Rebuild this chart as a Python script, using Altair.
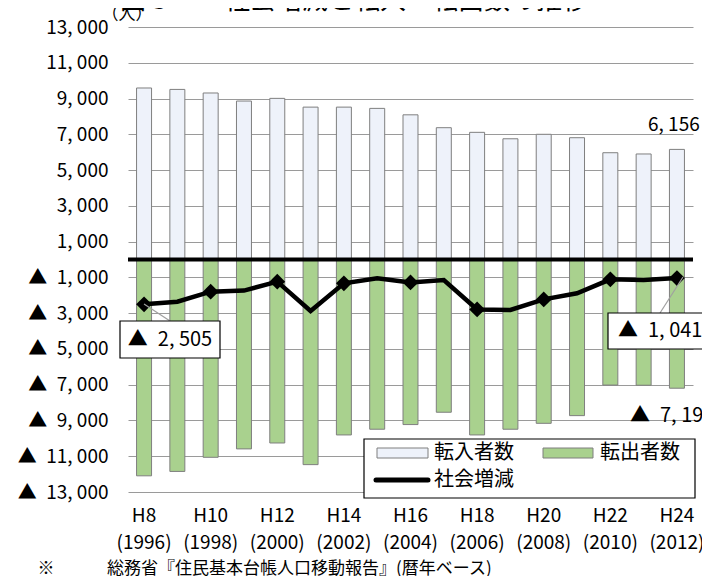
import altair as alt
import pandas as pd

# ---- data ----
years = [1996, 1997, 1998, 1999, 2000, 2001, 2002, 2003, 2004, 2005,
         2006, 2007, 2008, 2009, 2010, 2011, 2012]
inflow = [9590, 9510, 9310, 8860, 9010, 8520, 8520, 8450, 8090, 7370,
          7110, 6750, 7000, 6810, 5970, 5900, 6156]
outflow = [12095, 11850, 11060, 10590, 10260, 11470, 9810, 9490, 9230, 8540,
           9810, 9490, 9160, 8730, 7020, 7030, 7197]
net = [-2505, -2360, -1800, -1740, -1240, -2880, -1330, -1050, -1280, -1150,
       -2790, -2820, -2230, -1890, -1110, -1150, -1041]

label_years = [1996, 1998, 2000, 2002, 2004, 2006, 2008, 2010, 2012]
label_heisei = ["H8", "H10", "H12", "H14", "H16", "H18", "H20", "H22", "H24"]
label_western = ["(1996)", "(1998)", "(2000)", "(2002)", "(2004)", "(2006)",
                 "(2008)", "(2010)", "(2012)"]

TRI = "▲\u2002"
ytick_values = [13000, 11000, 9000, 7000, 5000, 3000, 1000,
                -1000, -3000, -5000, -7000, -9000, -11000, -13000]
ytick_labels = ["13, 000", "11, 000", "9, 000", "7, 000", "5, 000", "3, 000", "1, 000",
                TRI + "1, 000", TRI + "3, 000", TRI + "5, 000", TRI + "7, 000",
                TRI + "9, 000", TRI + "11, 000", TRI + "13, 000"]

FONT = "Noto Sans CJK JP"
IN_FILL = "#eef2fa"
OUT_FILL = "#a9d18e"
EDGE = "#7f7f7f"

df = pd.DataFrame({
    "year": years,
    "inflow": inflow,
    "outflow_neg": [-v for v in outflow],
    "net": net,
})
df_marks = df[df["year"].isin(label_years)]
df_labels = pd.DataFrame({"year": label_years, "h": label_heisei, "w": label_western})

label_expr = "".join(
    f"datum.value == {v} ? '{t}' : " for v, t in zip(ytick_values, ytick_labels)
) + "''"

yscale = alt.Scale(domain=[-13000, 13000], nice=False, zero=False)
yaxis = alt.Axis(values=ytick_values, grid=True, gridColor="#9a9a9a", gridWidth=1,
                 domain=False, ticks=False, labelPadding=20, labelFont=FONT,
                 labelFontSize=19, labelColor="#000000", labelExpr=label_expr,
                 title=None)
xenc = alt.X("year:O", scale=alt.Scale(paddingInner=0.55, paddingOuter=0.257), axis=None)


def Y(field):
    return alt.Y(field, type="quantitative", scale=yscale, axis=yaxis)


base = alt.Chart(df).encode(x=xenc)

bars_in = base.mark_bar(fill=IN_FILL, stroke=EDGE, strokeWidth=1).encode(
    y=Y("inflow"), y2=alt.datum(0))
bars_out = base.mark_bar(fill=OUT_FILL, stroke=EDGE, strokeWidth=1).encode(
    y=Y("outflow_neg"), y2=alt.datum(0))

zero = alt.Chart(pd.DataFrame({"v": [0]})).mark_rule(color="black", strokeWidth=4).encode(
    y=Y("v"))

line = base.mark_line(color="black", strokeWidth=4.5).encode(y=Y("net"))
pts = alt.Chart(df_marks).mark_point(shape="diamond", filled=True, size=250,
                                     color="black", opacity=1).encode(x=xenc, y=Y("net"))

one = pd.DataFrame({"a": [0]})


def txt(s, x, y, size=20, align="left", baseline="middle"):
    return alt.Chart(one).mark_text(font=FONT, fontSize=size, align=align,
                                    baseline=baseline, color="black").encode(
        x=alt.value(x), y=alt.value(y), text=alt.value(s))


def box(x1, x2, y1, y2, fill="white", stroke="black", sw=1.2):
    return alt.Chart(one).mark_rect(fill=fill, stroke=stroke, strokeWidth=sw).encode(
        x=alt.value(x1), x2=alt.value(x2), y=alt.value(y1), y2=alt.value(y2))


def seg(x1, y1, x2, y2, color="#a0a0a0", sw=1.2, cap="butt"):
    return alt.Chart(one).mark_rule(color=color, strokeWidth=sw, strokeCap=cap).encode(
        x=alt.value(x1), x2=alt.value(x2), y=alt.value(y1), y2=alt.value(y2))


xl_h = alt.Chart(df_labels).mark_text(font=FONT, fontSize=19, baseline="middle",
                                      color="black").encode(
    x=xenc, y=alt.value(489), text="h:N")
xl_w = alt.Chart(df_labels).mark_text(font=FONT, fontSize=19, baseline="middle",
                                      color="black").encode(
    x=xenc, y=alt.value(516), text="w:N")

layers = [
    bars_in, bars_out, zero, line, pts,
    seg(16, 277, 42, 294), seg(555, 250, 532, 286),
    box(-8, 92, 294, 331), txt(TRI + "2, 505", 42, 312.5, align="center"),
    box(480, 600, 286, 322), txt(TRI + "1, 041", 490, 304),
    txt(TRI + "7, 197", 502, 389),
    txt("6, 156", 520, 98, size=19),
    txt("（人）", -1, -12, size=17, align="center"),
    txt("図３　　社会増減と転入・転出数の推移", -8, -18, size=26, align="left",
        baseline="alphabetic"),
    # legend
    box(236, 567, 412, 471),
    box(249, 300, 421, 431, fill=IN_FILL, stroke=EDGE, sw=1),
    txt("転入者数", 306, 426),
    box(415, 465, 421, 431, fill=OUT_FILL, stroke=EDGE, sw=1),
    txt("転出者数", 472, 426),
    seg(248, 453, 300, 453, color="black", sw=5, cap="round"),
    txt("社会増減", 306, 453),
    xl_h, xl_w,
    txt("※", -82, 542, size=17, align="center"),
    txt("総務省『住民基本台帳人口移動報告』(暦年ベース)", -21, 542, size=17),
]

chart = alt.layer(*layers).properties(
    width=565, height=465,
    autosize=alt.AutoSizeParams(type="none"),
    padding={"left": 120, "top": 19, "right": 9, "bottom": 84},
    background="white",
).configure_view(stroke=None)

chart.save("out.html", embed_options={"renderer": "svg", "actions": False})
